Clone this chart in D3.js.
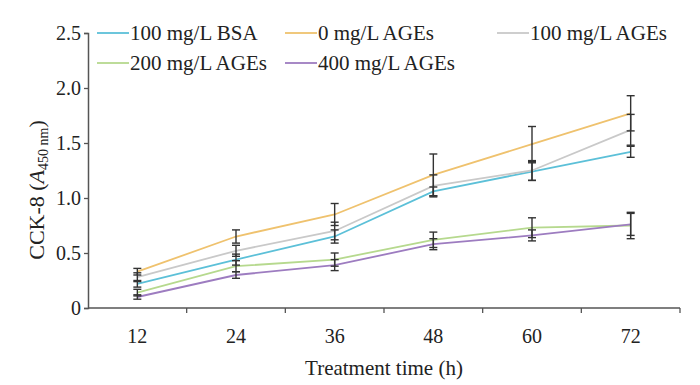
<!DOCTYPE html>
<html>
<head>
<meta charset="utf-8">
<script src="https://cdn.jsdelivr.net/npm/d3@7"></script>
<style>
  body { margin: 0; background: #fff; }
  text { font-family: "Liberation Serif", "Times New Roman", serif; fill: #222; }
</style>
</head>
<body>
<svg id="chart"></svg>
<script>
document.addEventListener("DOMContentLoaded", function() {
  const width = 700;
  const height = 385;

  // data
  const hours = ["12", "24", "36", "48", "60", "72"];
  const yTicks = [0, 0.5, 1.0, 1.5, 2.0, 2.5];
  const seriesNames = ["100 mg/L BSA", "0 mg/L AGEs", "100 mg/L AGEs", "200 mg/L AGEs", "400 mg/L AGEs"];
  const seriesColors = ["#5cc0d8", "#efc26e", "#c9c9c9", "#b6d98e", "#9d7cc0"];
  const bsa      = [0.22, 0.44, 0.65, 1.06, 1.24, 1.42];
  const ages0    = [0.33, 0.65, 0.85, 1.21, 1.49, 1.77];
  const ages100  = [0.28, 0.52, 0.70, 1.11, 1.25, 1.62];
  const ages200  = [0.14, 0.38, 0.44, 0.62, 0.73, 0.75];
  const ages400  = [0.10, 0.30, 0.39, 0.58, 0.66, 0.76];
  const errBsa     = [0.03, 0.05, 0.06, 0.04, 0.08, 0.05];
  const errAges0   = [0.03, 0.06, 0.10, 0.19, 0.16, 0.16];
  const errAges100 = [0.04, 0.05, 0.08, 0.10, 0.09, 0.14];
  const errAges200 = [0.03, 0.05, 0.06, 0.07, 0.09, 0.12];
  const errAges400 = [0.02, 0.03, 0.05, 0.05, 0.05, 0.10];

  const values = [bsa, ages0, ages100, ages200, ages400];
  const errors = [errBsa, errAges0, errAges100, errAges200, errAges400];

  const margin = { left: 88, right: 20, top: 33, bottom: 77 };

  const x = d3.scaleBand()
    .domain(hours)
    .range([margin.left, width - margin.right]);

  const y = d3.scaleLinear()
    .domain([0, 2.5])
    .range([height - margin.bottom, margin.top]);

  const svg = d3.select("#chart")
    .attr("width", width)
    .attr("height", height);

  // x axis: ticks sit between categories
  const xAxis = svg.append("g")
    .attr("transform", `translate(0,${y(0)})`);
  xAxis.append("line")
    .attr("x1", margin.left).attr("x2", width - margin.right)
    .attr("stroke", "#555").attr("stroke-width", 1.5);
  xAxis.selectAll("line.tick")
    .data(hours)
    .enter().append("line")
    .attr("class", "tick")
    .attr("x1", d => x(d) + x.bandwidth()).attr("x2", d => x(d) + x.bandwidth())
    .attr("y1", 0).attr("y2", 5)
    .attr("stroke", "#555").attr("stroke-width", 1.3);
  xAxis.selectAll("text")
    .data(hours)
    .enter().append("text")
    .attr("x", d => x(d) + x.bandwidth() / 2)
    .attr("y", 35)
    .attr("text-anchor", "middle")
    .style("font-size", "20px")
    .text(d => d);

  // y axis
  const yAxis = svg.append("g")
    .attr("transform", `translate(${margin.left},0)`)
    .call(d3.axisLeft(y).tickValues(yTicks).tickSize(4).tickPadding(3)
      .tickFormat(d => d === 0 ? "0" : d3.format(".1f")(d)));
  yAxis.select(".domain").attr("stroke", "#555").attr("stroke-width", 1.5);
  yAxis.selectAll(".tick line").attr("stroke", "#555").attr("stroke-width", 1.3);
  yAxis.selectAll(".tick text")
    .style("font-size", "20px")
    .style("font-family", "'Liberation Serif', serif")
    .attr("fill", "#222");

  // axis titles
  svg.append("text")
    .attr("x", x("36") + x.bandwidth())
    .attr("y", 375)
    .attr("text-anchor", "middle")
    .style("font-size", "21px")
    .text("Treatment time (h)");

  const yTitle = svg.append("text")
    .attr("transform", "translate(44,190) rotate(-90)")
    .attr("text-anchor", "middle")
    .style("font-size", "22px");
  yTitle.append("tspan").text("CCK-8 (");
  yTitle.append("tspan").style("font-style", "italic").text("A");
  yTitle.append("tspan").attr("dy", 4).style("font-size", "14px").text("450 nm");
  yTitle.append("tspan").attr("dy", -4).text(")");

  // lines
  const line = d3.line()
    .x((d, i) => x(hours[i]) + x.bandwidth() / 2)
    .y(d => y(d));

  values.forEach((vals, s) => {
    svg.append("path")
      .datum(vals)
      .attr("fill", "none")
      .attr("stroke", seriesColors[s])
      .attr("stroke-width", 1.8)
      .attr("d", line);
  });

  // error bars
  const errG = svg.append("g").attr("stroke", "#333").attr("stroke-width", 1.4);
  values.forEach((vals, s) => {
    vals.forEach((v, i) => {
      const cx = x(hours[i]) + x.bandwidth() / 2;
      const lo = y(v - errors[s][i]);
      const hi = y(v + errors[s][i]);
      errG.append("line").attr("x1", cx).attr("x2", cx).attr("y1", lo).attr("y2", hi);
      errG.append("line").attr("x1", cx - 4).attr("x2", cx + 4).attr("y1", lo).attr("y2", lo);
      errG.append("line").attr("x1", cx - 4).attr("x2", cx + 4).attr("y1", hi).attr("y2", hi);
    });
  });

  // legend
  const legendPos = [[97, 33], [285, 33], [497, 33], [97, 63], [285, 63]];
  seriesNames.forEach((name, s) => {
    const [lx, ly] = legendPos[s];
    svg.append("line")
      .attr("x1", lx).attr("x2", lx + 32)
      .attr("y1", ly).attr("y2", ly)
      .attr("stroke", seriesColors[s]).attr("stroke-width", 1.8);
    svg.append("text")
      .attr("x", lx + 33)
      .attr("y", ly + 7)
      .style("font-size", "21px")
      .text(name);
  });
});
</script>
</body>
</html>
